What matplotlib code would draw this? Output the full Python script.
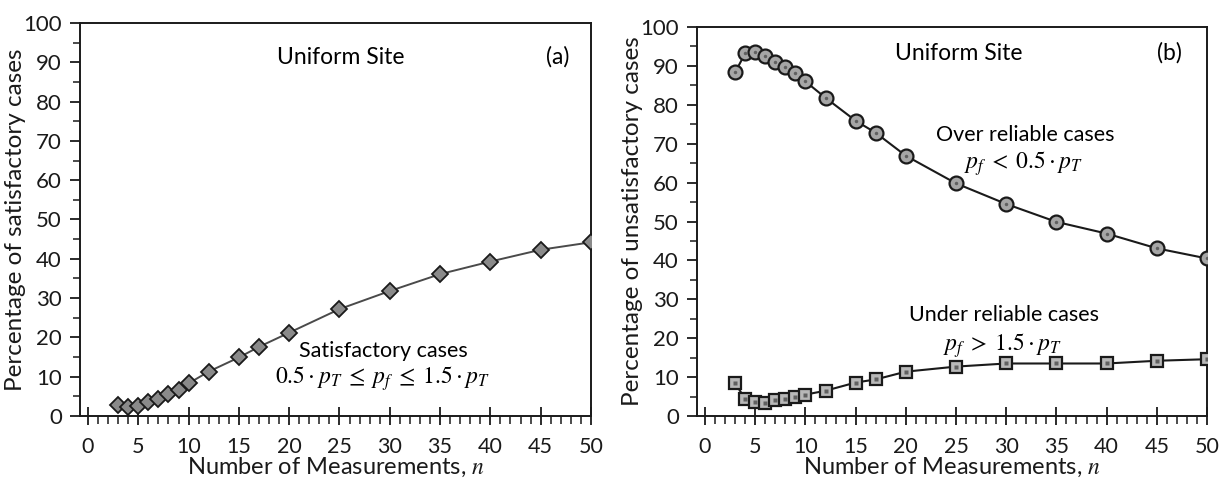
import matplotlib
matplotlib.use("Agg")
import matplotlib.pyplot as plt
from matplotlib.ticker import MultipleLocator

plt.rcParams['font.family'] = ['Lato', 'DejaVu Sans']
plt.rcParams['mathtext.fontset'] = 'stix'

# number of measurements
n = [3, 4, 5, 6, 7, 8, 9, 10, 12, 15, 17, 20, 25, 30, 35, 40, 45, 50]

# (a) satisfactory cases, %
satisfactory = [2.8, 2.2, 2.6, 3.6, 4.3, 5.5, 6.6, 8.3, 11.3, 14.9, 17.6,
                21.2, 27.2, 31.8, 36.1, 39.3, 42.3, 44.2]

# (b) unsatisfactory cases, %
over_reliable = [88.4, 93.2, 93.6, 92.6, 91.0, 89.7, 88.3, 86.0, 81.8, 75.9,
                 72.8, 66.9, 59.8, 54.5, 49.9, 46.9, 43.1, 40.5]
under_reliable = [8.4, 4.4, 3.5, 3.3, 4.1, 4.5, 4.9, 5.5, 6.5, 8.6, 9.4,
                  11.4, 12.7, 13.5, 13.5, 13.5, 14.2, 14.6]

dark = '#1a1a1a'


def style_axes(ax, ylabel):
    ax.set_xlim(-0.8, 50)
    ax.set_ylim(0, 100)
    ax.xaxis.set_major_locator(MultipleLocator(5))
    ax.xaxis.set_minor_locator(MultipleLocator(1))
    ax.yaxis.set_major_locator(MultipleLocator(10))
    ax.yaxis.set_minor_locator(MultipleLocator(5))
    ax.tick_params(axis='x', which='major', direction='inout', length=13,
                   width=1.3, pad=8.5, labelsize=15.5, colors=dark)
    ax.tick_params(axis='x', which='minor', direction='out', length=6,
                   width=1.1, colors=dark)
    ax.tick_params(axis='y', which='major', direction='out', length=7,
                   width=1.3, pad=6, labelsize=16, colors=dark)
    ax.tick_params(axis='y', which='minor', direction='out', length=5,
                   width=1.1, colors=dark)
    for s in ax.spines.values():
        s.set_linewidth(1.4)
        s.set_color(dark)
    ax.set_xlabel('Number of Measurements, $n$', fontsize=17,
                  labelpad=-0.5, color=dark)
    ax.set_ylabel(ylabel, fontsize=17.5, labelpad=-2, color=dark)


fig = plt.figure(figsize=(12.28, 4.83), dpi=100)
ax1 = fig.add_axes([0.0651, 0.1387, 0.4161, 0.8137])
ax2 = fig.add_axes([0.5676, 0.1387, 0.4153, 0.8054])

# (a)
ax1.plot(n, satisfactory, color='#4a4a4a', lw=1.4, marker='D', ms=8,
         mfc='#8a8a8a', mec=dark, mew=1.3, zorder=3)
style_axes(ax1, 'Percentage of satisfactory cases')
ax1.text(25.1, 91.3, 'Uniform Site', fontsize=16.5, ha='center', va='center')
ax1.text(46.7, 91.5, '(a)', fontsize=16.5, ha='center', va='center')
ax1.text(29.4, 16.6, 'Satisfactory cases', fontsize=15.5,
         ha='center', va='center')
ax1.text(29.3, 9.6, r'$0.5\cdot p_T\;\leq\;p_f\;\leq\;1.5\cdot p_T$',
         fontsize=17, ha='center', va='center')

# (b)
ax2.plot(n, over_reliable, color=dark, lw=1.5, marker='o', ms=10,
         mfc='#a6a6a6', mec=dark, mew=1.6, zorder=3)
ax2.plot(n, over_reliable, ls='none', marker='o', ms=2.5,
         mfc='#606060', mec='none', zorder=4)
ax2.plot(n, under_reliable, color=dark, lw=1.5, marker='s', ms=9,
         mfc='#b8b8b8', mec=dark, mew=1.6, zorder=3)
ax2.plot(n, under_reliable, ls='none', marker='s', ms=2.5,
         mfc='#606060', mec='none', zorder=4)
style_axes(ax2, 'Percentage of unsatisfactory cases')
ax2.text(25.3, 93.2, 'Uniform Site', fontsize=16.5, ha='center', va='center')
ax2.text(46.3, 93.3, '(b)', fontsize=16.5, ha='center', va='center')
ax2.text(31.9, 72.2, 'Over reliable cases', fontsize=15.5,
         ha='center', va='center')
ax2.text(31.7, 64.9, r'$p_f\;<\;0.5\cdot p_T$', fontsize=17,
         ha='center', va='center')
ax2.text(29.8, 25.9, 'Under reliable cases', fontsize=15.5,
         ha='center', va='center')
ax2.text(29.6, 18.2, r'$p_f\;>\;1.5\cdot p_T$', fontsize=17,
         ha='center', va='center')

fig.savefig('out.png', dpi=100)
